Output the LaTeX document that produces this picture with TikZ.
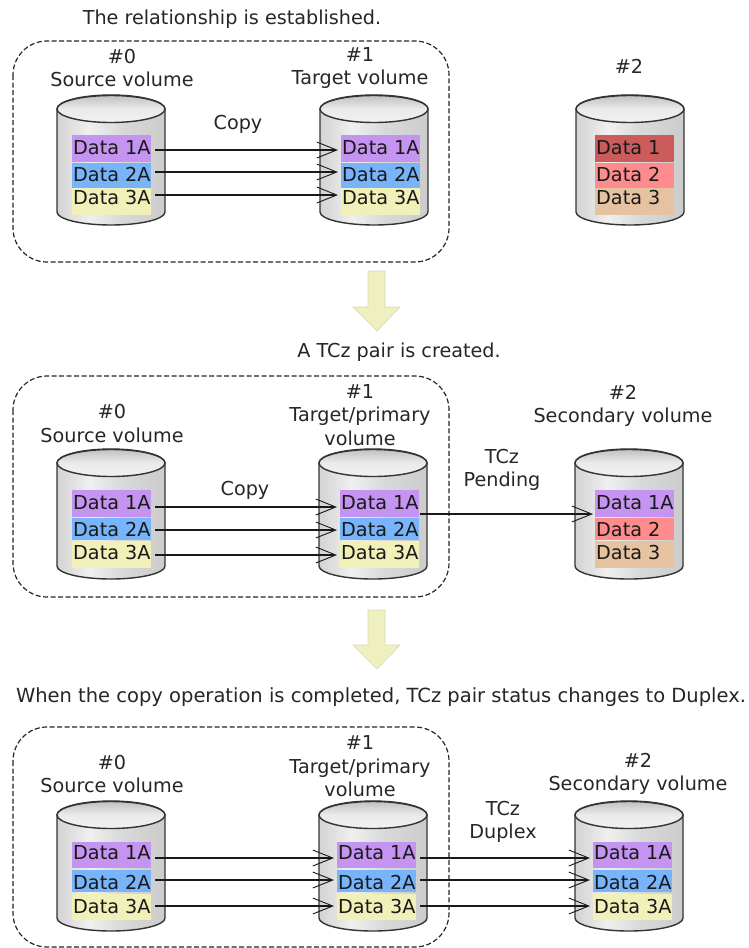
\documentclass[tikz,border=0pt]{standalone}
\usepackage{fontspec}
\setmainfont{DejaVu Sans}
\usetikzlibrary{arrows.meta}
\definecolor{dpurple}{RGB}{196,148,240}
\definecolor{dblue}{RGB}{120,180,250}
\definecolor{dyellow}{RGB}{240,240,184}
\definecolor{dred}{RGB}{204,92,92}
\definecolor{dpink}{RGB}{255,140,140}
\definecolor{dtan}{RGB}{230,195,160}
\definecolor{barrow}{RGB}{238,240,190}
\definecolor{barrowedge}{RGB}{215,215,185}
\pgfdeclarehorizontalshading{cylbody}{100bp}{
 color(0bp)=(black!50); color(8bp)=(black!30); color(28bp)=(black!15); color(40bp)=(black!6);
 color(55bp)=(black!15); color(75bp)=(black!20); color(90bp)=(black!30); color(100bp)=(black!50)}
\pgfdeclareverticalshading{cyltop}{100bp}{
 color(0bp)=(black!3); color(50bp)=(black!8); color(100bp)=(black!40)}
\tikzset{
  x=1pt,y=-1pt,
  lab/.style={font=\fontsize{19.2}{23.5}\selectfont,align=center,inner sep=0pt,text=black!85},
  rowtxt/.style={font=\fontsize{19.2}{23.5}\selectfont,anchor=west,inner sep=0pt,text=black!90},
  group/.style={draw=black!85,dash pattern=on 5pt off 2.5pt,line width=1.2pt,rounded corners=34pt},
  flow/.style={draw=black!90,line width=1.2pt,-{Straight Barb[length=20pt,width=16pt,line width=.9pt]}},
  block/.style={fill=barrow,draw=barrowedge,line width=.6pt},
  cyl/.style={draw=black!80,line width=1.4pt},
}
\newcommand{\setrects}[6]{\def\rAt{#1}\def\rAb{#2}\def\rBt{#3}\def\rBb{#4}\def\rCt{#5}\def\rCb{#6}}
\newcommand{\settexts}[6]{\def\tA{#1}\def\tB{#2}\def\tC{#3}\def\aA{#4}\def\aB{#5}\def\aC{#6}}
% #1 name, #2 left, #3 top, #4-#6 fills, #7-#9 texts; \rl = offset of the colour bands
\newcommand{\volume}[9]{%
  \begin{scope}[shift={(#2,#3)}]
    \path[shading=cylbody,cyl]
      (0,14) -- (0,117) arc[start angle=180,end angle=360,x radius=54pt,y radius=13pt]
      -- (108,14) arc[start angle=0,end angle=180,x radius=54pt,y radius=14pt] -- cycle;
    \path[shading=cyltop,cyl] (54,14) ellipse[x radius=54pt,y radius=13.5pt];
    \fill[#4] (\rl,\rAt) rectangle (\rl+79,\rAb);
    \fill[#5] (\rl,\rBt) rectangle (\rl+79,\rBb);
    \fill[#6] (\rl,\rCt) rectangle (\rl+79,\rCb);
    \node[rowtxt] (#1a) at (\rl+1,\tA) {#7};
    \node[rowtxt] (#1b) at (\rl+1,\tB) {#8};
    \node[rowtxt] (#1c) at (\rl+1,\tC) {#9};
    \coordinate (#1ra) at (\rl+83,\aA);
    \coordinate (#1rb) at (\rl+83,\aB);
    \coordinate (#1rc) at (\rl+83,\aC);
    \coordinate (#1la) at (\rl-3,\aA);
    \coordinate (#1lb) at (\rl-3,\aB);
    \coordinate (#1lc) at (\rl-3,\aC);
    \coordinate (#1rm) at (\rl+80,65);
    \coordinate (#1lm) at (\rl-2,65);
  \end{scope}}
\newcommand{\blockarrow}[2]{%
  \draw[block] (368,#1) -- (385,#1) -- (385,#2) -- (400,#2) -- (377,#2+24) -- (353,#2) -- (368,#2) -- cycle;}
\begin{document}
\begin{tikzpicture}
\useasboundingbox (0,0) rectangle (748,948);
\fill[white] (0,0) rectangle (748,948);
% titles
\node[lab] (t1) at (232,19) {The relationship is established.};
\node[lab] (t2) at (399,352) {A TCz pair is created.};
\node[lab,font=\fontsize{19.5}{23.5}\selectfont] (t3) at (381,697) {When the copy operation is completed, TCz pair status changes to Duplex.};
% row 1
\draw[group] (13,41) rectangle (449,262);
\node[lab] (h10) at (122,68) {\#0\\Source volume};
\node[lab] (h11) at (360,68) {\#1\\Target volume};
\node[lab] (h12) at (629,66) {\#2};
\node[lab] (c1) at (238,124) {Copy};
\setrects{40}{67}{68}{93}{93}{120}\settexts{53}{80}{103}{55}{77}{100}
\def\rl{15}\volume{a}{57}{95}{dpurple}{dblue}{dyellow}{Data 1A}{Data 2A}{Data 3A}
\def\rl{21}\volume{b}{320}{95}{dpurple}{dblue}{dyellow}{Data 1A}{Data 2A}{Data 3A}
\def\rl{19}\volume{c}{576}{95}{dred}{dpink}{dtan}{Data 1}{Data 2}{Data 3}
\draw[flow] (ara) -- (bla);
\draw[flow] (arb) -- (blb);
\draw[flow] (arc) -- (blc);
\blockarrow{271}{307}
% row 2
\draw[group] (13,376) rectangle (449,597);
\node[lab] (h20) at (112,423.5) {\#0\\Source volume};
\node[lab] (h21) at (360,415) {\#1\\Target/primary\\volume};
\node[lab] (h22) at (623,406) {\#2\\Secondary volume};
\node[lab] (c2) at (245,490) {Copy};
\node[lab] (p2) at (502,470) {TCz\\Pending};
\setrects{41}{68}{69}{91}{92}{119}\settexts{54}{81}{104}{58}{81}{106}
\def\rl{15}\volume{d}{57}{449}{dpurple}{dblue}{dyellow}{Data 1A}{Data 2A}{Data 3A}
\def\rl{21}\volume{e}{319}{449}{dpurple}{dblue}{dyellow}{Data 1A}{Data 2A}{Data 3A}
\def\rl{20}\volume{f}{575}{449}{dpurple}{dpink}{dtan}{Data 1A}{Data 2}{Data 3}
\draw[flow] (dra) -- (ela);
\draw[flow] (drb) -- (elb);
\draw[flow] (drc) -- (elc);
\draw[flow] (erm) -- (flm);
\blockarrow{610}{645}
% row 3
\draw[group] (13,727) rectangle (449,947);
\node[lab] (h30) at (112,774) {\#0\\Source volume};
\node[lab] (h31) at (360,766.5) {\#1\\Target/primary\\volume};
\node[lab] (h32) at (638,774) {\#2\\Secondary volume};
\node[lab] (p3) at (503,822) {TCz\\Duplex};
\setrects{41}{67}{69}{91}{93}{119}\settexts{52}{81}{105}{57}{79}{105}
\def\rl{15}\volume{g}{57}{801}{dpurple}{dblue}{dyellow}{Data 1A}{Data 2A}{Data 3A}
\def\rl{18}\volume{h}{319}{801}{dpurple}{dblue}{dyellow}{Data 1A}{Data 2A}{Data 3A}
\def\rl{18}\volume{i}{575}{801}{dpurple}{dblue}{dyellow}{Data 1A}{Data 2A}{Data 3A}
\draw[flow] (gra) -- (hla);
\draw[flow] (grb) -- (hlb);
\draw[flow] (grc) -- (hlc);
\draw[flow] (hra) -- (ila);
\draw[flow] (hrb) -- (ilb);
\draw[flow] (hrc) -- (ilc);
\end{tikzpicture}
\end{document}
